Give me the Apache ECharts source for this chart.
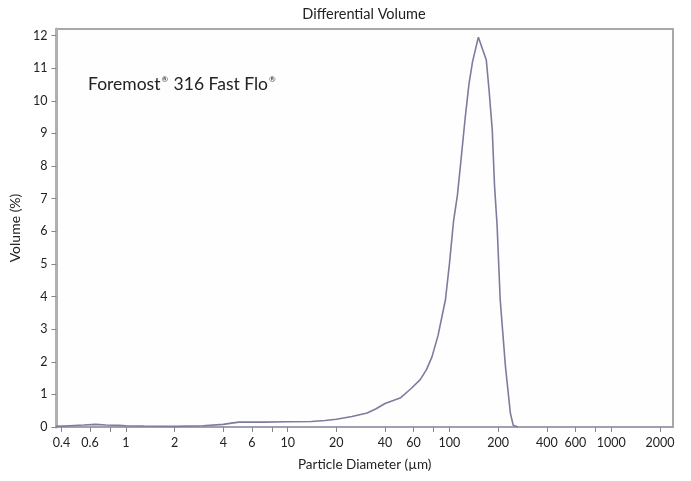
<!DOCTYPE html>
<html>
<head>
<meta charset="utf-8">
<script src="https://cdn.jsdelivr.net/npm/echarts@6/dist/echarts.min.js"></script>
<style>
html,body{margin:0;padding:0;background:#fff;}
#c{width:691px;height:481px;}
</style>
</head>
<body>
<div id="c"></div>
<script>
// Particle diameter (µm) and differential volume (%)
const diameters = [0.37, 0.45, 0.55, 0.65, 0.75, 0.9, 1.0, 1.3, 2.0, 3.0, 4.0, 4.5, 5.0, 7.0, 10, 14, 17, 20, 25, 31, 35, 40, 50, 58, 66, 72, 78, 85, 94.5, 100, 106, 112, 118, 125, 132, 139, 151, 169, 176, 184, 190, 197, 206, 222, 238, 248, 265];
const volumes   = [0.02, 0.04, 0.06, 0.08, 0.06, 0.05, 0.04, 0.03, 0.02, 0.04, 0.08, 0.12, 0.15, 0.15, 0.16, 0.17, 0.2, 0.24, 0.32, 0.43, 0.55, 0.72, 0.9, 1.18, 1.45, 1.75, 2.15, 2.8, 3.9, 5.0, 6.3, 7.1, 8.2, 9.45, 10.5, 11.2, 11.95, 11.25, 10.3, 9.1, 7.4, 6.2, 3.9, 1.85, 0.43, 0.05, 0.0];
const xTickLabels = [0.4, 0.6, 1, 2, 4, 6, 10, 20, 40, 60, 100, 200, 400, 600, 1000, 2000];
const xTickMarks  = [0.4, 0.6, 0.8, 1, 2, 4, 6, 8, 10, 20, 40, 60, 80, 100, 200, 400, 600, 800, 1000, 2000];
const yTicks = [0,1,2,3,4,5,6,7,8,9,10,11,12];
const xRange = [0.372, 2410];
const yRange = [0, 12.2];

const FONT = 'Lato';
const chart = echarts.init(document.getElementById('c'));
const lg = v => Math.log10(v);
chart.setOption({
  animation: false,
  backgroundColor: '#ffffff',
  textStyle: {fontFamily: FONT},
  grid: {left: 55, right: 18, top: 29, bottom: 54, show: true, borderColor: '#a8a8a8', borderWidth: 2, backgroundColor: '#fefefe'},
  graphic: [
    {type: 'text', x: 364, y: 14, style: {text: 'Differential Volume', fontFamily: FONT, fontSize: 14.5, fill: '#222', align: 'center', verticalAlign: 'middle'}},
    {type: 'text', x: 88, y: 84, style: {
      text: 'Foremost{r|®} 316 Fast Flo{r|®}',
      fontFamily: FONT, fontSize: 17.5, fill: '#222', align: 'left', verticalAlign: 'middle',
      rich: {r: {fontSize: 8, fontFamily: FONT, fill: '#222', verticalAlign: 'top', padding: [0, 1, 8, 1]}}
    }}
  ],
  xAxis: {
    type: 'value',
    min: lg(xRange[0]), max: lg(xRange[1]),
    name: 'Particle Diameter (µm)', nameLocation: 'middle', nameGap: 31,
    nameTextStyle: {fontFamily: FONT, fontSize: 13.5, color: '#222'},
    axisLine: {show: true, onZero: false, lineStyle: {color: '#a0a0b0', width: 2}},
    axisTick: {show: true, inside: false, length: 5, lineStyle: {color: '#888'}, customValues: xTickMarks.map(lg)},
    axisLabel: {show: true, margin: 9, fontFamily: FONT, fontSize: 12.5, color: '#222', customValues: xTickLabels.map(lg),
      formatter: v => { const d = Math.pow(10, v); return d < 1 ? d.toFixed(1) : String(Math.round(d)); }},
    splitLine: {show: false}
  },
  yAxis: {
    type: 'value',
    min: yRange[0], max: yRange[1],
    name: 'Volume (%)', nameLocation: 'middle', nameGap: 28,
    nameTextStyle: {fontFamily: FONT, fontSize: 14, color: '#222'},
    axisLine: {show: true, onZero: false, lineStyle: {color: '#b0b0b0', width: 3}},
    axisTick: {show: true, inside: false, length: 5, lineStyle: {color: '#888'}, customValues: yTicks},
    axisLabel: {show: true, margin: 9, fontFamily: FONT, fontSize: 12.5, color: '#222', customValues: yTicks},
    splitLine: {show: false}
  },
  series: [{
    type: 'line',
    data: diameters.map((d, i) => [lg(d), volumes[i]]),
    showSymbol: false,
    smooth: false,
    lineStyle: {color: '#7c7c9c', width: 1.6},
    z: 3
  }]
});
</script>
</body>
</html>
